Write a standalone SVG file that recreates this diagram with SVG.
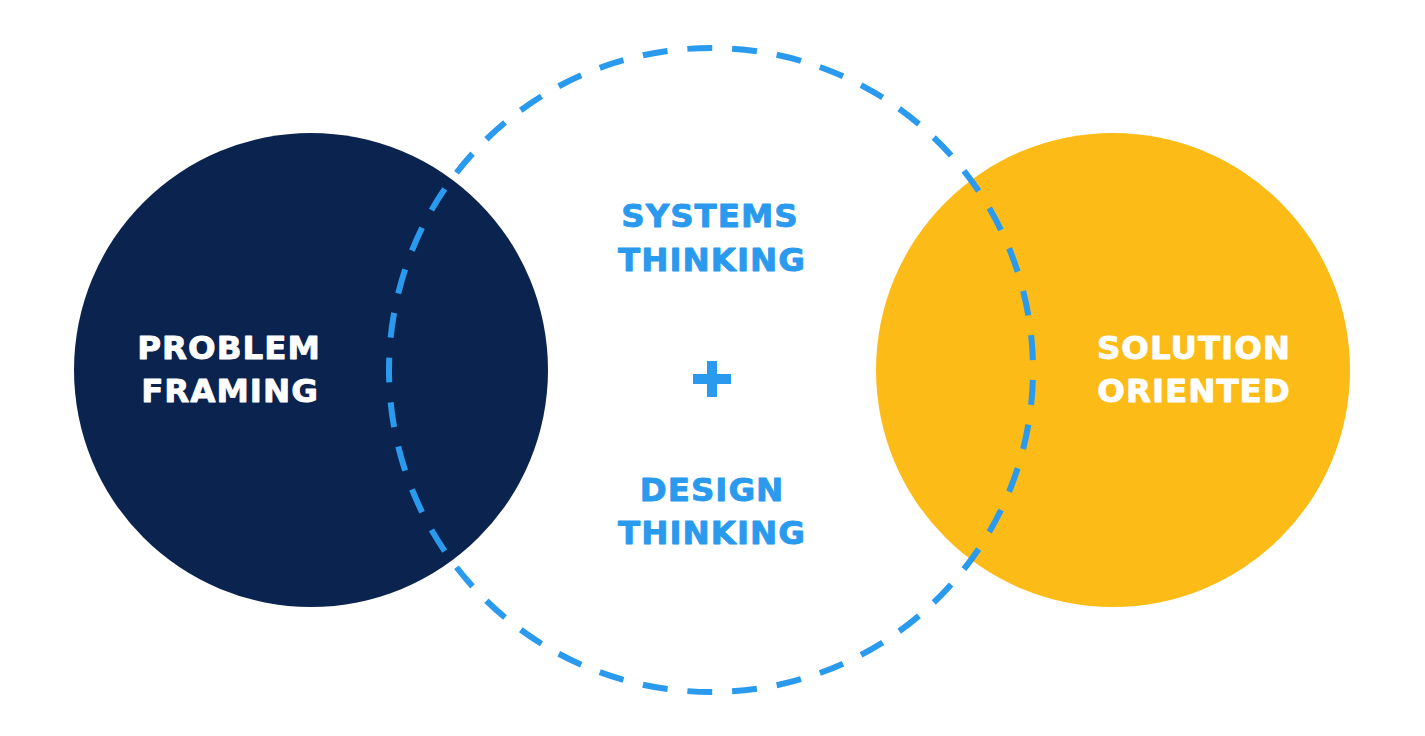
<svg xmlns="http://www.w3.org/2000/svg" width="1425" height="736" viewBox="0 0 1425 736">
  <style>
    .lbl { font-family: "DejaVu Sans", "Liberation Sans", sans-serif; font-weight: bold; font-size: 32.5px; letter-spacing: 1px; text-anchor: middle; stroke-width: 0.9px; stroke-linejoin: round; }
    .white { fill: #ffffff; stroke: #ffffff; }
    .blue { fill: #2A9AEE; stroke: #2A9AEE; }
    .plus { fill: #2A9AEE; }
  </style>
  <rect width="1425" height="736" fill="#ffffff"/>
  <g id="problem-framing">
    <circle cx="311" cy="370" r="237" fill="#0A234F"/>
    <text class="lbl white" x="229" y="359">PROBLEM</text>
    <text class="lbl white" x="230" y="402">FRAMING</text>
  </g>
  <g id="solution-oriented">
    <circle cx="1113" cy="370" r="237" fill="#FDBB18"/>
    <text class="lbl white" x="1194" y="359">SOLUTION</text>
    <text class="lbl white" x="1194" y="402">ORIENTED</text>
  </g>
  <g id="connectors">
    <circle cx="711" cy="370" r="322" fill="none" stroke="#2A9AEE" stroke-width="6" pathLength="2025" stroke-dasharray="25 20" stroke-dashoffset="35"/>
  </g>
  <g id="center">
    <text class="lbl blue" x="710" y="227">SYSTEMS</text>
    <text class="lbl blue" x="712" y="271">THINKING</text>
    <rect x="693" y="374" width="38" height="10" class="plus"/>
    <rect x="707" y="361" width="10" height="36" class="plus"/>
    <text class="lbl blue" x="712" y="501">DESIGN</text>
    <text class="lbl blue" x="712" y="544">THINKING</text>
  </g>
</svg>
